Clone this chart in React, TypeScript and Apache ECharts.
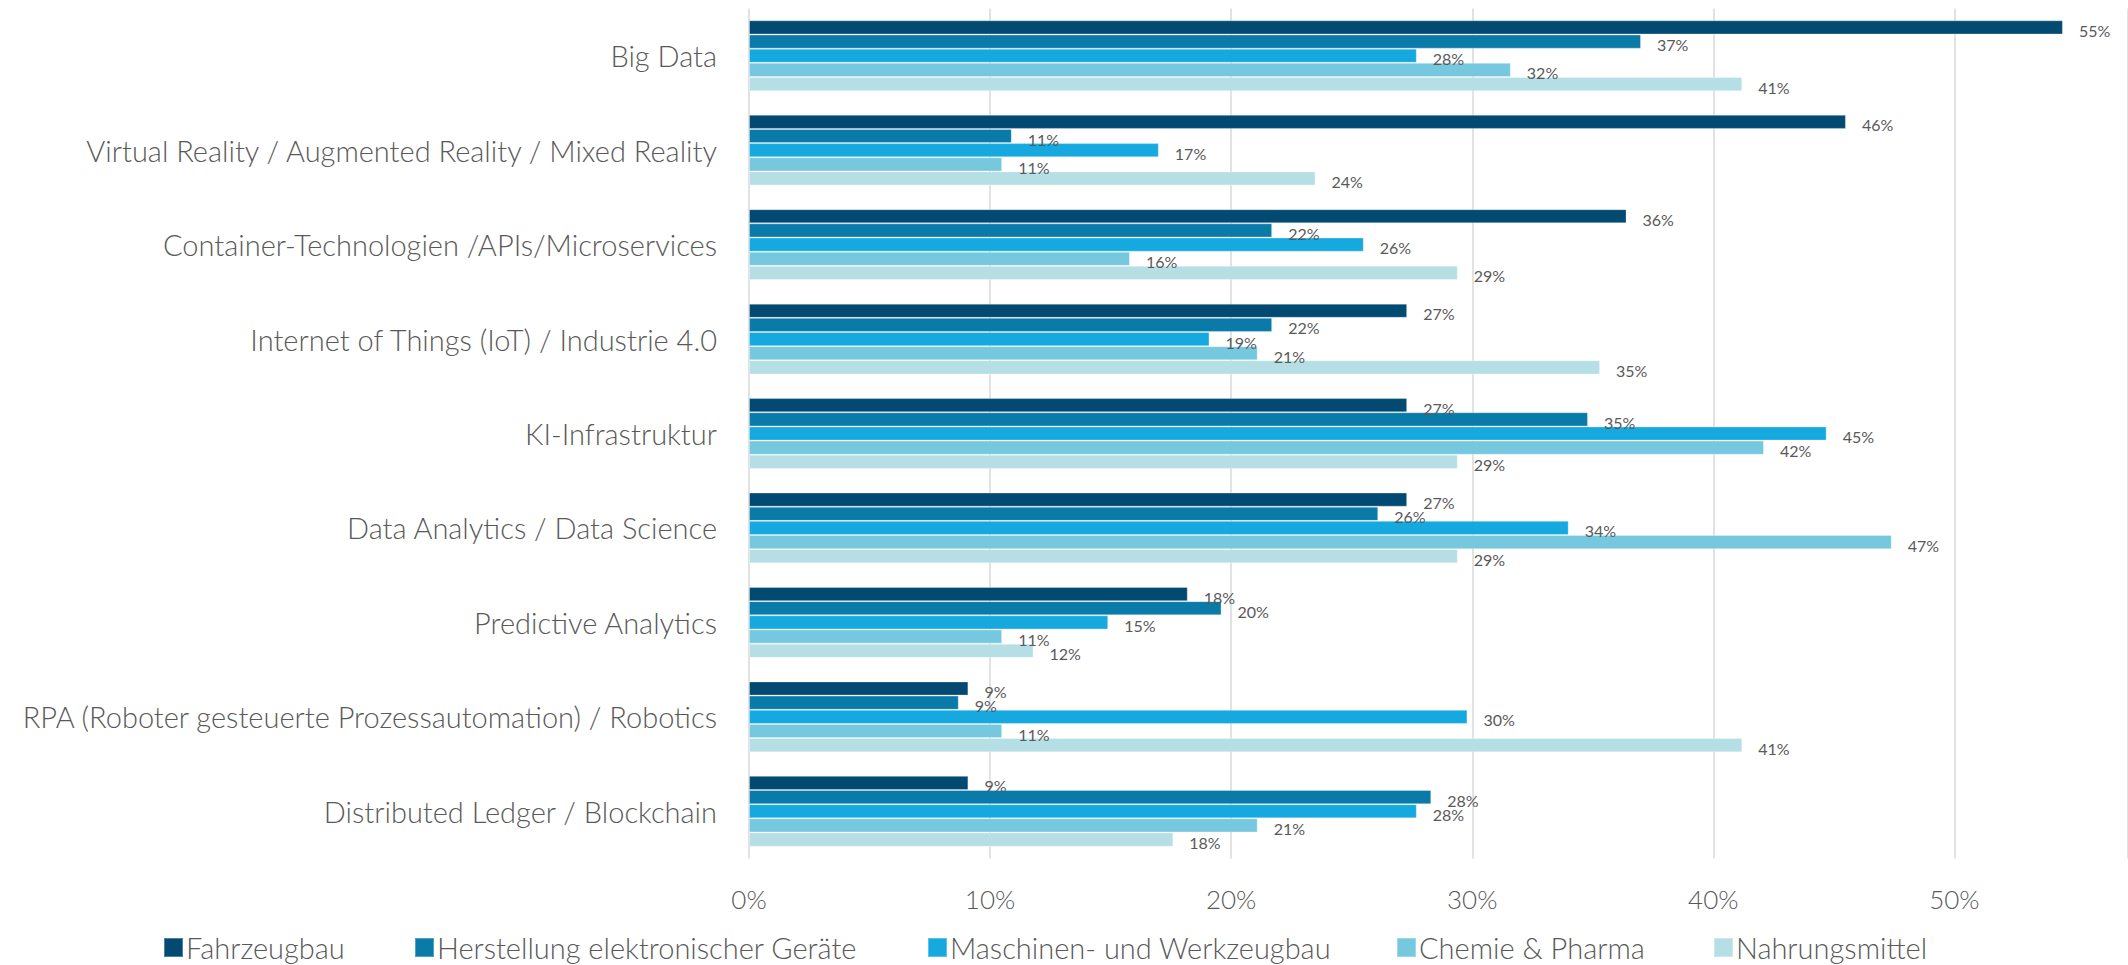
import React, { useEffect, useRef } from "react";
import * as echarts from "echarts";

const categories = [
  "Big Data",
  "Virtual Reality / Augmented Reality / Mixed Reality",
  "Container-Technologien /APIs/Microservices",
  "Internet of Things (IoT) / Industrie 4.0",
  "KI-Infrastruktur",
  "Data Analytics / Data Science",
  "Predictive Analytics",
  "RPA (Roboter gesteuerte Prozessautomation) / Robotics",
  "Distributed Ledger / Blockchain",
];

const seriesNames = [
  "Fahrzeugbau",
  "Herstellung elektronischer Geräte",
  "Maschinen- und Werkzeugbau",
  "Chemie & Pharma",
  "Nahrungsmittel",
];

const fahrzeugbau = [54.5, 45.5, 36.4, 27.3, 27.3, 27.3, 18.2, 9.1, 9.1];
const herstellung = [37.0, 10.9, 21.7, 21.7, 34.8, 26.1, 19.6, 8.7, 28.3];
const maschinen = [27.7, 17.0, 25.5, 19.1, 44.7, 34.0, 14.9, 29.8, 27.7];
const chemie = [31.6, 10.5, 15.8, 21.1, 42.1, 47.4, 10.5, 10.5, 21.1];
const nahrung = [41.2, 23.5, 29.4, 35.3, 29.4, 29.4, 11.8, 41.2, 17.6];

const seriesValues = [fahrzeugbau, herstellung, maschinen, chemie, nahrung];
const colors = ["#024A72", "#0A7AA8", "#15A9E0", "#76C8DE", "#B5DFE5"];

// axis runs from 0 % to the chart's cropped right edge (~57 %)
const axisMin = 0;
const axisMax = 57.2;
const axisStep = 10;

const FONT = "'Segoe UI Light', 'Segoe UI', Lato, 'Open Sans', sans-serif";
const legendLefts = [163, 414, 927, 1396, 1713];

export default function App() {
  const ref = useRef<HTMLDivElement>(null);
  useEffect(() => {
    if (!ref.current) return;
    const chart = echarts.init(ref.current, null, { renderer: "svg" });
    const option = {
      animation: false,
      backgroundColor: "#ffffff",
      grid: { left: 749, right: 0, top: 8.5, bottom: 106.5, containLabel: false },
      legend: seriesNames.map((n, i) => ({
        data: [n],
        left: legendLefts[i],
        top: 933,
        padding: 0,
        icon: "rect",
        itemWidth: 19,
        itemHeight: 19,
        itemGap: 0,
        textStyle: {
          fontFamily: FONT,
          fontWeight: 300,
          fontSize: 29,
          lineHeight: 29,
          color: "#595959",
          padding: [0, 0, 0, -2],
        },
        selectedMode: false,
      })),
      xAxis: {
        type: "value",
        min: axisMin,
        max: axisMax,
        interval: axisStep,
        axisLine: { show: false },
        axisTick: { show: false },
        splitLine: { show: true, lineStyle: { color: "#d9d9d9", width: 1.5 } },
        axisLabel: {
          showMaxLabel: false,
          margin: 27,
          formatter: (v: number) => `${v}%`,
          fontFamily: FONT,
          fontWeight: 300,
          fontSize: 26,
          color: "#595959",
        },
      },
      yAxis: {
        type: "category",
        inverse: true,
        data: categories,
        axisLine: { show: false },
        axisTick: { show: false },
        axisLabel: {
          margin: 32,
          fontFamily: FONT,
          fontWeight: 300,
          fontSize: 29,
          color: "#595959",
        },
      },
      series: seriesNames.map((name, i) => ({
        name,
        type: "bar",
        data: seriesValues[i],
        barGap: "0%",
        barCategoryGap: "25%",
        itemStyle: { color: colors[i], borderColor: "rgba(255,255,255,0.3)", borderWidth: 1 },
        label: {
          show: true,
          position: "right",
          distance: 16,
          offset: [0, 3],
          formatter: (p: any) => `${Math.round(p.value)}%`,
          fontFamily: FONT,
          fontWeight: 400,
          fontSize: 16,
          color: "#595959",
        },
      })),
    };
    chart.setOption(option as any);
    return () => chart.dispose();
  }, []);
  return (
    <div
      ref={ref}
      style={{ position: "absolute", left: 0, top: 0, width: 2128, height: 965, overflow: "hidden" }}
    />
  );
}
